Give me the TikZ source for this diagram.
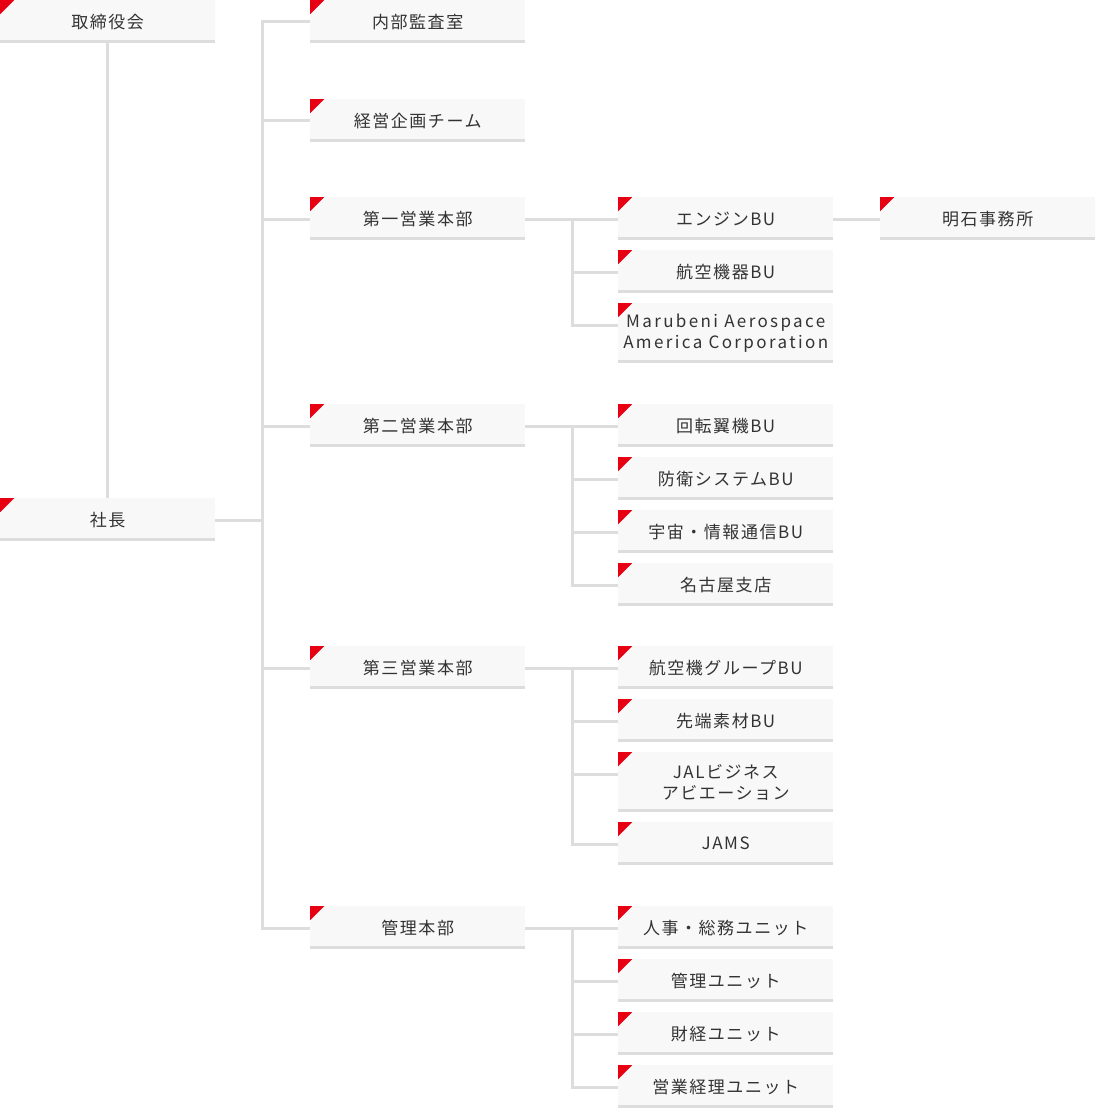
\documentclass[tikz,border=0pt]{standalone}
\usepackage{fontspec}
\usepackage{xcolor}
\usetikzlibrary{backgrounds}
\newfontfamily\jpfont{Noto Sans CJK JP}[LetterSpace=9]
\newfontfamily\widefont{Noto Sans CJK JP}[LetterSpace=14]
\definecolor{BoxFill}{HTML}{F8F8F8}
\definecolor{LineGrey}{HTML}{DDDDDD}
\definecolor{MarkRed}{HTML}{E60012}
\definecolor{TextDark}{HTML}{333333}

\begin{document}
\begin{tikzpicture}[
	x=1pt, y=-1pt, % pixel grid, y grows downwards
	% Style for the unit boxes
	unit/.style={
		rectangle,
		fill=BoxFill,
		anchor=north west,
		minimum width=215pt,
		minimum height=43pt,
		inner sep=0pt,
		text=TextDark,
		align=center,
		font=\jpfont\fontsize{17}{21}\selectfont,
		path picture={
			% red corner mark
			\fill[MarkRed] (path picture bounding box.north west)
				-- ++(14pt,0pt) -- ++(-14pt,-14pt) -- cycle;
			% grey bottom border
			\fill[LineGrey] (path picture bounding box.south west)
				rectangle ([yshift=3pt]path picture bounding box.south east);
		}
	},
	% Style for two-line boxes
	tall/.style={minimum height=60pt},
	% Style for the connecting lines
	link/.style={
		draw=LineGrey,
		line width=3pt,
		line cap=rect
	}
	]
	\useasboundingbox (0,0) rectangle (1095,1118);
	
	% 1. Top level
	\node[unit] (board) at (0,0) {取締役会};
	\node[unit] (ceo) at (0,498) {社長};
	
	% 2. Second column
	\node[unit] (audit)  at (310,0)   {内部監査室};
	\node[unit] (plan)   at (310,99)  {経営企画チーム};
	\node[unit] (sales1) at (310,197) {第一営業本部};
	\node[unit] (sales2) at (310,404) {第二営業本部};
	\node[unit] (sales3) at (310,646) {第三営業本部};
	\node[unit] (admin)  at (310,906) {管理本部};
	
	% 3. Third column
	\node[unit] (engine) at (618,197) {エンジンBU};
	\node[unit] (equip)  at (618,250) {航空機器BU};
	\node[unit, tall, font=\widefont\fontsize{17}{21}\selectfont] (maa) at (618,303)
		{Marubeni Aerospace\\America Corporation};
	
	\node[unit] (rotor)   at (618,404) {回転翼機BU};
	\node[unit] (defense) at (618,457) {防衛システムBU};
	\node[unit] (space)   at (618,510) {宇宙・情報通信BU};
	\node[unit] (nagoya)  at (618,563) {名古屋支店};
	
	\node[unit] (group)    at (618,646) {航空機グループBU};
	\node[unit] (material) at (618,699) {先端素材BU};
	\node[unit, tall] (jal) at (618,752) {JALビジネス\\アビエーション};
	\node[unit] (jams)     at (618,822) {JAMS};
	
	\node[unit] (hr)      at (618,906)  {人事・総務ユニット};
	\node[unit] (control) at (618,959)  {管理ユニット};
	\node[unit] (finance) at (618,1012) {財経ユニット};
	\node[unit] (account) at (618,1065) {営業経理ユニット};
	
	% 4. Fourth column
	\node[unit] (akashi) at (880,197) {明石事務所};
	
	% 5. Connection points, 22px below each box top
	\foreach \n in {ceo,audit,plan,sales1,sales2,sales3,admin,engine,equip,maa,
		rotor,defense,space,nagoya,group,material,jal,jams,hr,control,finance,account,akashi}{
		\coordinate (\n-in) at ([yshift=-22pt]\n.north west);
		\coordinate (\n-out) at ([yshift=-22pt]\n.north east);
	}
	\coordinate (trunk) at (262,0);
	\coordinate (fork) at (572,0);
	
	% 6. Lines
	\begin{scope}[on background layer]
		\draw[link] (board.south) -- (ceo.north);
		\draw[link] (ceo-out) -- (trunk |- ceo-out);
		\draw[link] (trunk |- audit-in) -- (trunk |- admin-in);
		\foreach \n in {audit,plan,sales1,sales2,sales3,admin}
			\draw[link] (trunk |- \n-in) -- (\n-in);
		
		% branches to the third column
		\foreach \head/\first/\last/\rest in {
			sales1/engine/maa/{equip,maa},
			sales2/rotor/nagoya/{defense,space,nagoya},
			sales3/group/jams/{material,jal,jams},
			admin/hr/account/{control,finance,account}}{
			\draw[link] (\head-out) -- (\first-in);
			\draw[link] (fork |- \first-in) -- (fork |- \last-in);
			\foreach \n in \rest
				\draw[link] (fork |- \n-in) -- (\n-in);
		}
		
		\draw[link] (engine-out) -- (akashi-in);
	\end{scope}
	
\end{tikzpicture}
\end{document}
